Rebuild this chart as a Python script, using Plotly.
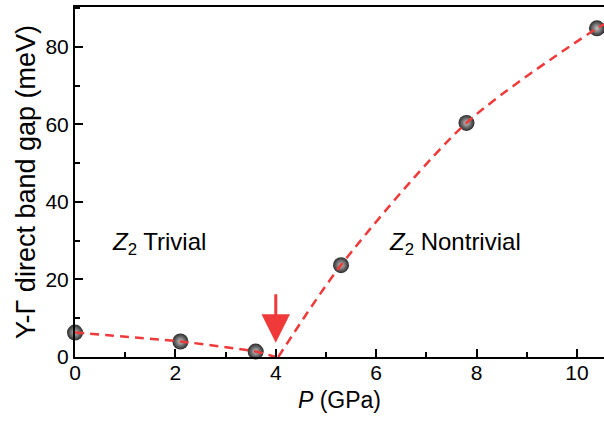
import plotly.graph_objects as go

# Data points (pressure in GPa, gap in meV)
pressure = [0.0, 2.1, 3.6, 5.3, 7.8, 10.4]
gap = [6.3, 4.0, 1.4, 23.7, 60.4, 84.8]

# Guide-line (dashed) through trivial region
trivial_x = [0.0, 2.1, 3.6, 4.0]
trivial_y = [6.3, 4.0, 1.4, 0.0]

# Guide-line (dashed) through nontrivial region
nontrivial_x = [4.05, 5.3, 7.8, 10.4, 10.6]
nontrivial_y = [0.0, 23.7, 60.4, 84.8, 86.2]

x_ticks = [0, 2, 4, 6, 8, 10]
y_ticks = [0, 20, 40, 60, 80]

RED = "#f03a3a"
FONT = "Arial, Liberation Sans, sans-serif"

fig = go.Figure()

fig.add_trace(go.Scatter(
    x=pressure, y=gap, mode="markers",
    marker=dict(size=16, color="#2a2a2a",
                gradient=dict(type="radial", color="#c4c4c4"),
                line=dict(width=0)),
    cliponaxis=False, showlegend=False))

fig.add_trace(go.Scatter(
    x=trivial_x, y=trivial_y, mode="lines",
    line=dict(color=RED, width=2.5, dash="9px,6px", shape="spline", smoothing=0.6),
    cliponaxis=False, showlegend=False))

fig.add_trace(go.Scatter(
    x=nontrivial_x, y=nontrivial_y, mode="lines",
    line=dict(color=RED, width=2.5, dash="9px,6px", shape="spline", smoothing=0.8),
    cliponaxis=False, showlegend=False))

fig.add_annotation(x=4.0, y=3.7, ax=0, ay=-50, xref="x", yref="y",
                   showarrow=True, arrowhead=2, arrowsize=1.9, arrowwidth=3,
                   arrowcolor=RED, text="")

fig.add_annotation(x=0.7, y=29.3, xref="x", yref="y", showarrow=False,
                   xanchor="left", text="<i>Z</i><sub>2</sub> Trivial",
                   font=dict(size=24, color="black", family=FONT))
fig.add_annotation(x=6.22, y=29.3, xref="x", yref="y", showarrow=False,
                   xanchor="left", text="<i>Z</i><sub>2</sub> Nontrivial",
                   font=dict(size=24, color="black", family=FONT))

fig.update_layout(
    width=604, height=421,
    margin=dict(l=75, r=0, t=7, b=64),
    paper_bgcolor="white", plot_bgcolor="white",
    font=dict(family=FONT, size=21, color="black"),
    xaxis=dict(range=[0, 10.54], tickvals=x_ticks, ticks="inside", ticklen=8,
               tickwidth=1.5, tickcolor="black", showline=True, linecolor="black",
               linewidth=2, mirror=True, showgrid=False, zeroline=False,
               minor=dict(ticks="inside", ticklen=5, tickwidth=1.5, dtick=1, tickcolor="black"),
               title=dict(text="<i>P</i> (GPa)", font=dict(size=23), standoff=9),
               ticklabelstandoff=-4,
               tickfont=dict(size=21)),
    yaxis=dict(range=[0, 90.3], tickvals=y_ticks, ticks="inside", ticklen=8,
               tickwidth=1.5, tickcolor="black", showline=True, linecolor="black",
               linewidth=2, showgrid=False, zeroline=False,
               minor=dict(ticks="inside", ticklen=5, tickwidth=1.5, dtick=10, tickcolor="black"),
               title=dict(text="Y-Γ direct band gap (meV)", font=dict(size=27), standoff=2),
               tickfont=dict(size=21)),
)

fig.write_html("out.html")
